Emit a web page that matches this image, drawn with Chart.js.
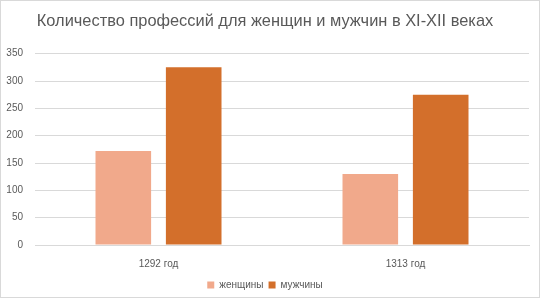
<!DOCTYPE html>
<html lang="ru">
<head>
    <meta charset="UTF-8">
    <title>Количество профессий</title>
    <style>
        html, body { margin: 0; padding: 0; background: #fff; }
        .frame { width: 540px; height: 298px; box-sizing: border-box; border: 1px solid #d9d9d9; position: relative; overflow: hidden; }
        canvas { display: block; }
    </style>
</head>
<body>
    <div class="frame">
        <canvas id="chart" width="538" height="299"></canvas>
    </div>
    <script src="https://cdn.jsdelivr.net/npm/chart.js"></script>
    <script>
        var labels = ['1292 год', '1313 год'];
        var women = [172, 130];
        var men = [325, 275];
        var yTicks = [0, 50, 100, 150, 200, 250, 300, 350];

        var textColor = '#595959';
        var gridColor = '#d9d9d9';
        var fontFamily = "'Liberation Sans', 'DejaVu Sans', sans-serif";

        var chart = new Chart(document.getElementById('chart').getContext('2d'), {
            type: 'bar',
            data: {
                labels: labels,
                datasets: [{
                    label: 'женщины',
                    data: women,
                    backgroundColor: '#f1a98b'
                }, {
                    label: 'мужчины',
                    data: men,
                    backgroundColor: '#d36f2b'
                }]
            },
            options: {
                responsive: false,
                animation: false,
                devicePixelRatio: 1,
                categoryPercentage: 0.57,
                barPercentage: 0.79,
                layout: { padding: { left: 0, right: 10, top: 0, bottom: 0 } },
                plugins: {
                    title: {
                        display: true,
                        text: 'Количество профессий для женщин и мужчин в XI-XII веках',
                        color: textColor,
                        font: { family: fontFamily, size: 16.4, weight: 'normal' },
                        padding: { top: 11, bottom: 22 }
                    },
                    legend: {
                        position: 'bottom',
                        labels: {
                            color: textColor,
                            font: { family: fontFamily, size: 10 },
                            boxWidth: 7,
                            boxHeight: 7,
                            padding: 5
                        }
                    },
                    tooltip: { enabled: false }
                },
                scales: {
                    x: {
                        grid: { display: false, drawTicks: false },
                        border: { color: gridColor },
                        afterFit: function(scale) { scale.height = scale.height - 8; },
                        ticks: { color: textColor, padding: 13, font: { family: fontFamily, size: 10 } }
                    },
                    y: {
                        min: 0,
                        max: 350,
                        afterBuildTicks: function(scale) {
                            scale.ticks = yTicks.map(function(v) { return { value: v }; });
                        },
                        afterFit: function(scale) { scale.width = 34; },
                        grid: { color: gridColor, drawTicks: false },
                        border: { display: false },
                        ticks: { color: textColor, padding: 12, font: { family: fontFamily, size: 10 } }
                    }
                }
            }
        });
    </script>
</body>
</html>
